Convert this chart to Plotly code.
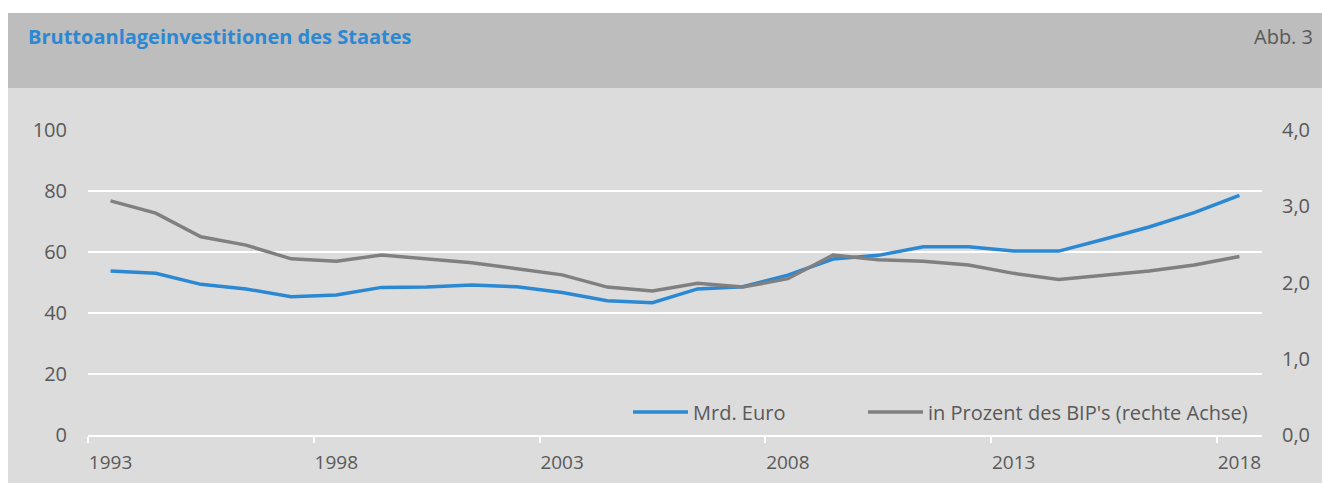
import plotly.graph_objects as go

years = list(range(1993, 2019))
mrd_euro = [53.8, 53.0, 49.4, 47.9, 45.3, 45.9, 48.4, 48.5, 49.2, 48.6, 46.7, 44.0, 43.4,
            47.9, 48.6, 52.4, 57.7, 58.9, 61.7, 61.7, 60.3, 60.3, 64.2, 68.2, 72.9, 78.6]
pct_bip = [3.07, 2.91, 2.60, 2.49, 2.31, 2.28, 2.36, 2.31, 2.26, 2.18, 2.10, 1.94, 1.89,
           1.99, 1.94, 2.05, 2.36, 2.30, 2.28, 2.23, 2.12, 2.04, 2.09, 2.15, 2.23, 2.34]
label_years = [1993, 1998, 2003, 2008, 2013, 2018]
left_ticks = [0, 20, 40, 60, 80, 100]
right_ticks = [0, 1, 2, 3, 4]

title_text = "Bruttoanlageinvestitionen des Staates"
fig_label = "Abb. 3"
name_blue = "Mrd. Euro"
name_gray = "in Prozent des BIP's (rechte Achse)"

W, H = 1322, 483
L, T = 88, 130
R = W - 1262
B = H - 435
PW, PH = W - L - R, H - T - B


def px(x_page):
    return (x_page - L) / PW


def py(y_page):
    return (H - B - y_page) / PH


FONT = "Open Sans"
TXT = "#595959"
BLUE = "#2b88d3"
GRAY = "#808080"

fig = go.Figure()
fig.add_trace(go.Scatter(x=years, y=mrd_euro, name=name_blue, mode="lines",
                         line=dict(color=BLUE, width=3.5), legend="legend"))
fig.add_trace(go.Scatter(x=years, y=pct_bip, name=name_gray, mode="lines", yaxis="y2",
                         line=dict(color=GRAY, width=3.5), legend="legend2"))

leg_common = dict(orientation="h", xanchor="left", yanchor="middle",
                  bgcolor="rgba(0,0,0,0)", font=dict(size=20, color=TXT), itemwidth=55)

fig.update_layout(
    width=W, height=H,
    margin=dict(l=L, r=R, t=T, b=B, autoexpand=False),
    paper_bgcolor="white",
    plot_bgcolor="rgba(0,0,0,0)",
    separators=",.",
    font=dict(family=FONT, size=19, color=TXT),
    showlegend=True,
    legend=dict(x=px(628), y=py(412), **leg_common),
    legend2=dict(x=px(863), y=py(412), **leg_common),
    xaxis=dict(range=[1992.5, 2018.5], tickmode="array", tickvals=label_years,
               ticks="", showgrid=False, zeroline=False, automargin=False,
               showline=True, linecolor="white", linewidth=2,
               tickfont=dict(size=19, color=TXT), ticklabelstandoff=9,
               minor=dict(tickmode="linear", tick0=1992.5, dtick=5, ticks="outside",
                          ticklen=6, tickcolor="white", tickwidth=2, showgrid=False)),
    yaxis=dict(range=[0, 100], tickmode="array", tickvals=left_ticks, automargin=False,
               showgrid=True, gridcolor="white", gridwidth=2, zeroline=False,
               ticks="", tickfont=dict(size=20, color=TXT), ticklabelstandoff=20),
    yaxis2=dict(range=[0, 4], tickmode="array", tickvals=right_ticks, tickformat=".1f",
                overlaying="y", side="right", showgrid=False, zeroline=False, automargin=False,
                ticks="", tickfont=dict(size=20, color=TXT), ticklabelstandoff=19),
    shapes=[
        dict(type="rect", xref="paper", yref="paper", x0=px(8), x1=px(1322), y0=py(13), y1=py(88),
             fillcolor="#bdbdbd", line=dict(width=0), layer="below"),
        dict(type="rect", xref="paper", yref="paper", x0=px(8), x1=px(1322), y0=py(88), y1=py(483),
             fillcolor="#dcdcdc", line=dict(width=0), layer="below"),
    ],
    annotations=[
        dict(text="<b>" + title_text + "</b>", xref="paper", yref="paper", x=px(26), y=py(36),
             xanchor="left", yanchor="middle", showarrow=False,
             font=dict(family=FONT, size=20, color="#2b88d3")),
        dict(text=fig_label, xref="paper", yref="paper", x=px(1315), y=py(36),
             xanchor="right", yanchor="middle", showarrow=False,
             font=dict(family=FONT, size=20, color=TXT)),
    ],
)

fig.write_html(
    "out.html",
    config={"displayModeBar": False},
    post_script="document.body.style.margin='0';"
                "document.documentElement.style.overflow='hidden';"
                "document.body.style.overflow='hidden';",
)
